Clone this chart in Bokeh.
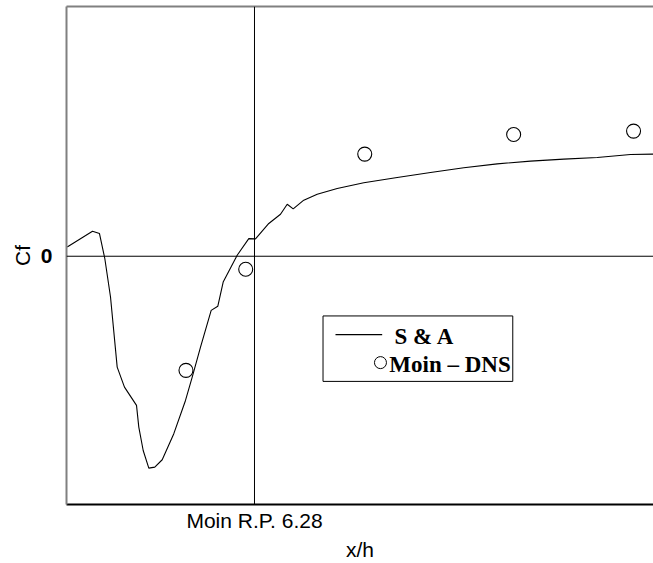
from bokeh.plotting import figure
from bokeh.models import (ColumnDataSource, Span, LinearAxis, FixedTicker,
                          BoxAnnotation, Label, Range1d)
from bokeh.embed import file_html
from bokeh.resources import INLINE

# Skin friction coefficient behind the backward-facing step
sa_x = [2.016, 2.592, 2.751, 2.872, 3.002, 3.154, 3.320, 3.594, 3.646, 3.746,
        3.874, 4.010, 4.179, 4.443, 4.709, 4.862, 5.051, 5.294, 5.444, 5.567,
        5.886, 6.150, 6.303, 6.606, 6.872, 7.025, 7.161, 7.402, 7.708, 8.163,
        8.768, 9.529, 10.287, 11.045, 11.805, 12.563, 13.322, 14.082, 14.840, 15.364]
sa_cf = [0.066, 0.179, 0.162, -0.016, -0.291, -0.791, -0.934, -1.064, -1.219, -1.386,
         -1.512, -1.505, -1.452, -1.266, -1.029, -0.862, -0.648, -0.386, -0.357, -0.184,
         0.007, 0.126, 0.124, 0.234, 0.300, 0.371, 0.338, 0.400, 0.443, 0.484,
         0.524, 0.562, 0.598, 0.631, 0.659, 0.679, 0.693, 0.705, 0.726, 0.729]
sa_cf = [v * 1e-3 for v in sa_cf]

dns_x = [4.72, 6.08, 8.79, 12.18, 14.91]
dns_cf = [-0.814e-3, -0.093e-3, 0.729e-3, 0.869e-3, 0.893e-3]

reattach_x = 6.28
reattach_label = "Moin R.P. 6.28"

X_RANGE = (2.0, 15.364)
Y_RANGE = (-1.7714e-3, 1.7821e-3)

p = figure(width=653, height=563, output_backend="svg", toolbar_location=None,
           x_range=Range1d(*X_RANGE), y_range=Range1d(*Y_RANGE),
           x_axis_type=None, y_axis_type=None,
           min_border_left=66, min_border_right=0, min_border_top=6,
           min_border_bottom=59)
p.outline_line_color = None
p.xgrid.visible = False
p.ygrid.visible = False
p.background_fill_color = "white"
p.border_fill_color = "white"

# axes
yax = LinearAxis(ticker=FixedTicker(ticks=[0.0]),
                 major_label_overrides={0.0: "0"})
yax.axis_line_color = "#808080"
yax.axis_line_width = 2
yax.major_tick_line_color = None
yax.minor_tick_line_color = None
yax.major_tick_out = 0
yax.minor_tick_out = 0
yax.major_label_text_font = "Liberation Sans"
yax.major_label_text_font_style = "bold"
yax.major_label_text_font_size = "21px"
yax.major_label_text_color = "black"
yax.major_label_standoff = 14
yax.axis_label = "Cf"
yax.axis_label_text_font = "Liberation Sans"
yax.axis_label_text_font_style = "normal"
yax.axis_label_text_font_size = "21px"
yax.axis_label_text_color = "black"
yax.axis_label_standoff = 4
p.add_layout(yax, "left")

xax = LinearAxis(ticker=FixedTicker(ticks=[reattach_x]),
                 major_label_overrides={reattach_x: reattach_label})
xax.axis_line_color = "black"
xax.axis_line_width = 2
xax.major_tick_line_color = None
xax.minor_tick_line_color = None
xax.major_tick_out = 0
xax.minor_tick_out = 0
xax.major_label_text_font = "Liberation Sans"
xax.major_label_text_font_size = "21px"
xax.major_label_text_color = "black"
xax.major_label_standoff = 4
xax.axis_label = "x/h"
xax.axis_label_text_font = "Liberation Sans"
xax.axis_label_text_font_style = "normal"
xax.axis_label_text_font_size = "21px"
xax.axis_label_text_color = "black"
xax.axis_label_standoff = 3
p.add_layout(xax, "below")

top = LinearAxis(ticker=FixedTicker(ticks=[]), major_label_text_font_size="0px")
top.axis_line_color = "#808080"
top.axis_line_width = 2
top.major_tick_line_color = None
top.minor_tick_line_color = None
top.major_tick_out = 0
top.minor_tick_out = 0
p.add_layout(top, "above")

# reference lines: zero skin friction and reattachment point
p.add_layout(Span(location=0.0, dimension="width", line_color="black", line_width=1))
p.add_layout(Span(location=reattach_x, dimension="height", line_color="black", line_width=1))

src = ColumnDataSource(dict(x=sa_x, y=sa_cf))
p.line("x", "y", source=src, line_color="black", line_width=1.1)

dsrc = ColumnDataSource(dict(x=dns_x, y=dns_cf))
p.scatter("x", "y", source=dsrc, marker="circle", size=14, fill_color=None,
          line_color="black", line_width=1.1)

# legend box
p.add_layout(BoxAnnotation(left=7.84, right=12.16, top=-0.426e-3, bottom=-0.893e-3,
                           fill_color=None, line_color="black", line_width=1,
                           line_alpha=1))
p.segment(x0=[8.124], y0=[-0.559e-3], x1=[9.187], y1=[-0.559e-3],
          line_color="black", line_width=1.1)
p.scatter(x=[9.148], y=[-0.759e-3], marker="circle", size=12, fill_color=None,
          line_color="black", line_width=1)
for tx, ty, txt in [(9.467, -0.575e-3, "S & A"), (9.35, -0.772e-3, "Moin \u2013 DNS")]:
    p.add_layout(Label(x=tx, y=ty, text=txt, text_font="Liberation Serif",
                       text_font_style="bold", text_font_size="23px",
                       text_color="black", text_baseline="alphabetic"))

open("out.html", "w").write(file_html(p, INLINE))
